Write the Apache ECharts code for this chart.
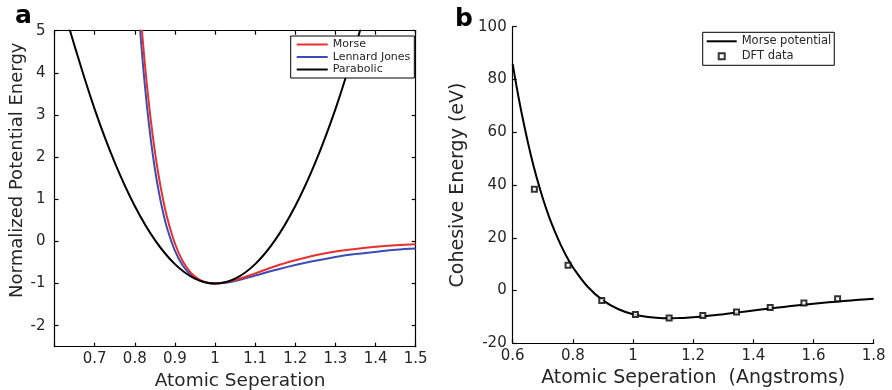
<!DOCTYPE html>
<html>
<head>
<meta charset="utf-8">
<script src="https://cdn.jsdelivr.net/npm/echarts@6/dist/echarts.min.js"></script>
<style>
html,body{margin:0;padding:0;background:#fff;}
#chart{width:892px;height:390px;}
</style>
</head>
<body>
<div id="chart"></div>
<script>
// ---- Panel a: normalized potentials ----
const parabX = [0.62, 0.65, 0.70, 0.75, 0.80, 0.85, 0.90, 0.95, 1.00, 1.05, 1.10, 1.15, 1.20, 1.25, 1.30, 1.35, 1.38];
const parabY = [5.64, 4.64, 3.14, 1.875, 0.84, 0.035, -0.54, -0.885, -1.00, -0.885, -0.54, 0.035, 0.84, 1.875, 3.14, 4.64, 5.64];

const potX   = [0.80, 0.81, 0.82, 0.83, 0.84, 0.85, 0.86, 0.87, 0.88, 0.90, 0.92, 0.94, 0.96, 0.98, 1.00, 1.02, 1.05, 1.10, 1.15, 1.20, 1.25, 1.30, 1.35, 1.40, 1.45, 1.50];
const morseY = [7.39, 5.97, 4.76, 3.74, 2.87, 2.14, 1.53, 1.02, 0.59, -0.05, -0.48, -0.75, -0.90, -0.98, -1.00, -0.98, -0.92, -0.76, -0.59, -0.45, -0.33, -0.24, -0.18, -0.13, -0.09, -0.07];
const ljY    = [6.92, 5.46, 4.24, 3.24, 2.41, 1.73, 1.17, 0.71, 0.33, -0.22, -0.58, -0.80, -0.92, -0.98, -1.00, -0.99, -0.94, -0.81, -0.68, -0.56, -0.46, -0.37, -0.30, -0.25, -0.20, -0.17];

const aXLabels = [0.7, 0.8, 0.9, 1.0, 1.1, 1.2, 1.3, 1.4, 1.5];
const aXTicks  = [0.6, 0.7, 0.8, 0.9, 1.0, 1.1, 1.2, 1.3, 1.4, 1.5];
const aYLabels = [-2, -1, 0, 1, 2, 3, 4, 5];

// ---- Panel b: cohesive energy ----
const fitX = [0.60, 0.62, 0.64, 0.66, 0.68, 0.70, 0.72, 0.74, 0.76, 0.78, 0.80, 0.85, 0.90, 0.95, 1.00, 1.05, 1.10, 1.15, 1.20, 1.25, 1.30, 1.35, 1.40, 1.45, 1.50, 1.55, 1.60, 1.65, 1.70, 1.75, 1.80];
const fitY = [85.8, 72.9, 61.6, 51.5, 42.7, 35.0, 28.2, 22.4, 17.2, 12.7, 8.84, 1.34, -3.73, -7.0, -8.99, -10.05, -10.47, -10.44, -10.11, -9.59, -8.96, -8.28, -7.57, -6.88, -6.22, -5.59, -5.0, -4.46, -3.97, -3.52, -3.12];
const dftX = [0.672, 0.784, 0.896, 1.008, 1.120, 1.232, 1.344, 1.456, 1.568, 1.680];
const dftY = [38.4, 9.6, -3.8, -9.1, -10.4, -9.5, -8.1, -6.4, -4.7, -3.1];

const pairs = (xs, ys) => xs.map((x, i) => [x, ys[i]]);

const FONT = 'DejaVu Sans';
const TXT = '#262626';
const AX = {color: '#000', width: 1.2};
const LINE_ICON = 'path://M0,0H31V2H0Z';

const chart = echarts.init(document.getElementById('chart'), null, {renderer: 'canvas'});

const option = {
  animation: false,
  backgroundColor: '#fff',
  textStyle: {fontFamily: FONT},
  grid: [
    {left: 54.5, right: 476.3, top: 30.7, bottom: 43.3, outerBoundsMode: 'none', containLabel: false},
    {left: 512.7, right: 18.3, top: 26.7, bottom: 46.7, outerBoundsMode: 'none', containLabel: false}
  ],
  xAxis: [
    {
      gridIndex: 0, type: 'value', min: 0.6, max: 1.5, position: 'bottom',
      axisLine: {onZero: false, lineStyle: AX},
      axisTick: {inside: true, length: 4, customValues: aXTicks, lineStyle: AX},
      axisLabel: {customValues: aXLabels, fontSize: 15, color: TXT, margin: 5, fontFamily: FONT},
      splitLine: {show: false},
      name: 'Atomic Seperation', nameLocation: 'middle', nameGap: 23,
      nameTextStyle: {fontSize: 18.5, color: TXT, fontFamily: FONT, padding: [0, 0, 0, 10]}
    },
    {
      gridIndex: 0, type: 'value', min: 0.6, max: 1.5, position: 'top',
      axisLine: {onZero: false, lineStyle: AX},
      axisTick: {inside: true, length: 4, customValues: aXTicks, lineStyle: AX},
      axisLabel: {show: false}, splitLine: {show: false}
    },
    {
      gridIndex: 1, type: 'value', min: 0.6, max: 1.8, interval: 0.2, position: 'bottom',
      axisLine: {onZero: false, lineStyle: AX},
      axisTick: {inside: true, length: 4, lineStyle: AX},
      axisLabel: {fontSize: 15, color: TXT, margin: 5, fontFamily: FONT},
      splitLine: {show: false},
      name: 'Atomic Seperation  (Angstroms)', nameLocation: 'middle', nameGap: 23,
      nameTextStyle: {fontSize: 19, color: TXT, fontFamily: FONT}
    }
  ],
  yAxis: [
    {
      gridIndex: 0, type: 'value', min: -2.5, max: 5, position: 'left',
      axisLine: {onZero: false, lineStyle: AX},
      axisTick: {inside: true, length: 4, customValues: aYLabels, lineStyle: AX},
      axisLabel: {customValues: aYLabels, fontSize: 15, color: TXT, margin: 9, fontFamily: FONT},
      splitLine: {show: false},
      name: 'Normalized Potential Energy', nameLocation: 'middle', nameGap: 28,
      nameTextStyle: {fontSize: 18, color: TXT, fontFamily: FONT, padding: [0, 0, 0, 37]}
    },
    {
      gridIndex: 0, type: 'value', min: -2.5, max: 5, position: 'right',
      axisLine: {onZero: false, lineStyle: AX},
      axisTick: {inside: true, length: 4, customValues: aYLabels, lineStyle: AX},
      axisLabel: {show: false}, splitLine: {show: false}
    },
    {
      gridIndex: 1, type: 'value', min: -20, max: 100, interval: 20, position: 'left',
      axisLine: {onZero: false, lineStyle: AX},
      axisTick: {inside: true, length: 4, lineStyle: AX},
      axisLabel: {fontSize: 15, color: TXT, margin: 6, fontFamily: FONT},
      splitLine: {show: false},
      name: 'Cohesive Energy (eV)', nameLocation: 'middle', nameGap: 45,
      nameTextStyle: {fontSize: 19, color: TXT, fontFamily: FONT}
    }
  ],
  legend: [
    {
      orient: 'vertical', left: 290.7, top: 36,
      data: [
        {name: 'Morse', icon: LINE_ICON},
        {name: 'Lennard Jones', icon: LINE_ICON},
        {name: 'Parabolic', icon: LINE_ICON}
      ],
      borderColor: '#000', borderWidth: 1, backgroundColor: '#fff',
      padding: [3, 4, 3, 6], itemWidth: 31, itemHeight: 12, itemGap: 1.5,
      textStyle: {fontSize: 11, color: TXT, fontFamily: FONT},
      selectedMode: false
    },
    {
      orient: 'vertical', left: 702.7, top: 32.3,
      data: [
        {name: 'Morse potential', icon: 'path://M0,0H30V2H0Z'},
        {name: 'DFT data', icon: 'path://M0,0H10V10H0Z'}
      ],
      borderColor: '#000', borderWidth: 1, backgroundColor: '#fff',
      padding: [3, 3, 3, 4], itemWidth: 30, itemHeight: 6, itemGap: 3,
      textStyle: {fontSize: 11.5, color: TXT, fontFamily: FONT},
      selectedMode: false
    }
  ],
  graphic: [
    {type: 'text', left: 15, top: 4, style: {text: 'a', font: 'bold 25px "DejaVu Sans"', fill: '#000'}},
    {type: 'text', left: 455, top: 7, style: {text: 'b', font: 'bold 25px "DejaVu Sans"', fill: '#000'}}
  ],
  series: [
    {
      name: 'Parabolic', type: 'line', xAxisIndex: 0, yAxisIndex: 0,
      data: pairs(parabX, parabY), smooth: 0.4,
      symbol: 'none', clip: true, lineStyle: {color: '#000', width: 2}, itemStyle: {color: '#000'}, z: 3
    },
    {
      name: 'Lennard Jones', type: 'line', xAxisIndex: 0, yAxisIndex: 0,
      data: pairs(potX, ljY), smooth: 0.4,
      symbol: 'none', clip: true, lineStyle: {color: '#3a4db4', width: 2}, itemStyle: {color: '#3a4db4'}, z: 2
    },
    {
      name: 'Morse', type: 'line', xAxisIndex: 0, yAxisIndex: 0,
      data: pairs(potX, morseY), smooth: 0.4,
      symbol: 'none', clip: true, lineStyle: {color: '#e8302f', width: 2}, itemStyle: {color: '#e8302f'}, z: 2
    },
    {
      name: 'Morse potential', type: 'line', xAxisIndex: 2, yAxisIndex: 2,
      data: pairs(fitX, fitY), smooth: 0.4,
      symbol: 'none', clip: true, lineStyle: {color: '#000', width: 2}, itemStyle: {color: '#000'}
    },
    {
      name: 'DFT data', type: 'scatter', xAxisIndex: 2, yAxisIndex: 2,
      data: pairs(dftX, dftY), symbol: 'rect', symbolSize: 5,
      itemStyle: {color: '#fff', borderColor: '#000', borderWidth: 2}, z: 4
    }
  ]
};
chart.setOption(option);
</script>
</body>
</html>
